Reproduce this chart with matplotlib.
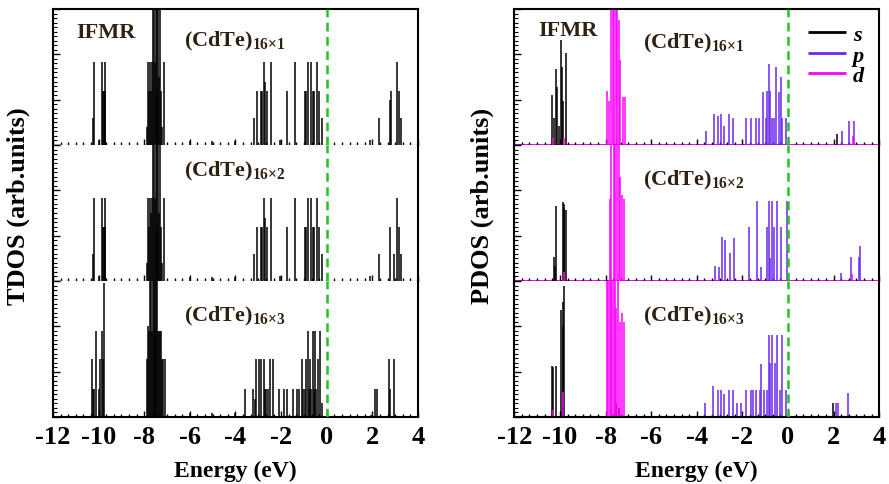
"""
Stacked TDOS / PDOS stick spectra of (CdTe)16xN IFMR structures.
Left: total DOS, right: s/p/d projected DOS.
"""

import matplotlib
matplotlib.use("Agg")
import matplotlib.pyplot as plt
from matplotlib.ticker import MultipleLocator, AutoMinorLocator

plt.rcParams['font.family'] = ['Liberation Serif', 'DejaVu Serif']
plt.rcParams['font.weight'] = 'bold'
plt.rcParams['mathtext.fontset'] = 'custom'
plt.rcParams['mathtext.rm'] = 'Liberation Serif'
plt.rcParams['mathtext.bf'] = 'Liberation Serif:bold'

# -------------------------------------------------------------
# DATA (energies in eV, heights in arb. units; 3.2 = off the top)
# -------------------------------------------------------------
panel_labels = ['16×1', '16×2', '16×3']

# TDOS, (CdTe)16x1
tdos1_e = [-10.26, -10.22, -10.00, -9.85, -9.81, -9.78, -9.74, -9.71,
           -7.86, -7.82, -7.78, -7.74, -7.70, -7.66, -7.62, -7.58, -7.54,
           -7.50, -7.46, -7.42, -7.38, -7.34, -7.30, -7.26, -7.22, -7.12,
           -5.98, -5.04, -4.03,
           -3.19, -3.04, -2.87, -2.82, -2.77, -2.72, -2.61, -2.43, -2.03,
           -1.74, -1.37, -0.97, -0.90, -0.84, -0.67, -0.60, -0.55, -0.43,
           -0.33, -0.19,
           1.91, 2.28, 2.78, 2.83, 3.07, 3.15, 3.25]
tdos1_h = [0.60, 1.84, 0.10, 1.84, 1.20, 1.20, 1.20, 1.84,
           0.40, 1.84, 1.20, 1.84, 1.20, 1.84, 3.20, 3.20, 1.84,
           3.20, 3.20, 1.20, 3.20, 1.50, 3.20, 1.20, 0.40, 1.84,
           0.08, 0.08, 0.08,
           0.60, 1.20, 1.20, 1.20, 1.84, 1.40, 1.20, 1.84, 0.10,
           1.20, 1.84, 1.20, 1.20, 1.84, 1.84, 1.20, 1.20, 1.84,
           1.20, 0.60,
           0.10, 0.60, 1.00, 1.20, 1.84, 1.20, 0.60]

# TDOS, (CdTe)16x2
tdos2_e = [-10.26, -10.22, -10.00, -9.85, -9.81, -9.78, -9.74, -9.71,
           -7.86, -7.82, -7.78, -7.74, -7.70, -7.66, -7.62, -7.58, -7.54,
           -7.50, -7.46, -7.42, -7.38, -7.34, -7.30, -7.26, -7.22, -7.12,
           -5.98, -5.04, -4.03,
           -3.19, -3.04, -2.87, -2.82, -2.77, -2.72, -2.61, -2.43, -2.03,
           -1.74, -1.37, -0.97, -0.90, -0.84, -0.67, -0.60, -0.55, -0.43,
           -0.33, -0.19,
           1.91, 2.28, 2.78, 2.93, 3.07, 3.15, 3.25]
tdos2_h = [0.60, 1.84, 0.10, 1.84, 1.20, 1.20, 1.20, 1.84,
           0.40, 1.84, 1.20, 1.84, 1.50, 1.84, 3.20, 3.20, 1.84,
           3.20, 3.20, 1.20, 3.20, 1.50, 3.20, 1.20, 0.40, 1.84,
           0.08, 0.08, 0.08,
           0.60, 1.20, 1.20, 1.20, 1.84, 1.40, 1.20, 1.84, 0.10,
           1.20, 1.84, 1.20, 1.20, 1.84, 1.84, 1.20, 1.20, 1.84,
           1.20, 0.60,
           0.10, 0.60, 1.20, 0.60, 1.84, 1.20, 0.60]

# TDOS, (CdTe)16x3
tdos3_e = [-10.29, -10.24, -10.19, -10.11, -9.97, -9.93, -9.87, -9.82, -9.78,
           -7.87, -7.83, -7.79, -7.75, -7.71, -7.67, -7.63, -7.59, -7.55,
           -7.51, -7.47, -7.43, -7.39, -7.35, -7.31, -7.27, -7.23, -7.17, -7.09,
           -5.98, -5.04, -4.03,
           -3.59, -3.23, -3.16, -3.09, -2.97, -2.87, -2.77, -2.70, -2.65,
           -2.58, -2.50, -2.36, -2.10, -1.88, -1.74, -1.49, -1.30, -1.20,
           -1.10, -1.03, -0.97, -0.91, -0.84, -0.78, -0.72, -0.67, -0.62,
           -0.55, -0.50, -0.45, -0.40, -0.29, -0.19,
           1.94, 2.10, 2.20, 2.71, 2.78, 2.93]
tdos3_h = [1.27, 0.61, 0.61, 1.89, 0.61, 1.27, 1.89, 1.27, 2.95,
           1.27, 2.00, 1.89, 3.20, 3.20, 1.89, 3.20, 3.20, 3.20,
           1.89, 3.20, 3.20, 1.89, 1.89, 1.89, 1.89, 1.27, 1.27, 1.27,
           0.08, 0.08, 0.08,
           0.61, 0.61, 0.40, 1.27, 1.27, 1.27, 1.27, 0.61, 0.61,
           0.61, 1.27, 1.27, 0.61, 0.61, 0.61, 0.61, 0.61, 0.61,
           1.27, 0.61, 0.61, 1.27, 1.89, 0.61, 1.27, 0.61, 1.89,
           0.61, 1.89, 0.61, 1.27, 1.89, 0.30,
           0.05, 0.61, 0.61, 1.27, 0.61, 1.27]

# PDOS, (CdTe)16x1
s1_e = [-10.33, -10.26, -10.19, -10.11, -10.04, -9.94, -9.90, -9.85, -9.75, 2.13]
s1_h = [1.10, 0.60, 1.68, 1.27, 0.42, 2.31, 1.72, 0.98, 2.03, 0.25]
p1_e = [-3.59, -3.23, -3.09, -2.94, -2.80, -2.58, -2.43, -1.85, -1.64,
        -1.42, -1.27, -1.10, -0.98, -0.91, -0.84, -0.77, -0.70, -0.62,
        -0.55, -0.40, -0.33, -0.26, -0.11,
        2.35, 2.67, 2.90]
p1_h = [0.31, 0.68, 0.64, 0.68, 0.42, 0.68, 0.60, 0.59, 0.59,
        0.59, 0.59, 1.16, 0.59, 1.20, 1.79, 1.20, 0.59, 0.59,
        1.72, 1.16, 1.50, 0.59, 0.59,
        0.31, 0.53, 0.53]
d1_e = [-10.30, -9.80, -7.94, -7.87, -7.77, -7.68, -7.62, -7.56, -7.50,
        -7.43, -7.36, -7.24, -7.14, 2.85]
d1_h = [0.15, 0.15, 1.20, 0.98, 3.20, 3.20, 3.20, 3.20, 3.20,
        2.76, 1.87, 1.05, 1.05, 0.20]

# PDOS, (CdTe)16x2
s2_e = [-10.26, -10.23, -10.19, -9.88, -9.84, -9.80, -9.73]
s2_h = [0.54, 0.32, 1.65, 1.75, 1.70, 1.60, 1.56]
p2_e = [-3.19, -3.01, -2.90, -2.75, -2.53, -2.36, -1.71, -1.35, -1.20,
        -0.91, -0.84, -0.77, -0.70, -0.62, -0.48, -0.33, -0.04,
        2.32, 2.78, 3.10, 3.17]
p2_h = [0.32, 0.30, 0.98, 0.90, 0.62, 0.95, 1.20, 1.76, 0.30,
        1.20, 1.76, 0.50, 1.76, 1.20, 1.76, 1.20, 1.76,
        0.17, 0.54, 0.54, 0.78]
d2_e = [-9.80, -7.80, -7.74, -7.65, -7.58, -7.50, -7.43, -7.36, -7.29,
        -7.19, 2.80]
d2_h = [0.20, 1.80, 3.20, 3.20, 3.20, 3.20, 3.20, 2.30, 1.90,
        1.80, 0.15]

# PDOS, (CdTe)16x3
s3_e = [-10.33, -10.29, -10.19, -9.94, -9.88, -9.85, -9.80, -7.55, -7.40,
        1.99]
s3_h = [1.13, 1.10, 1.13, 2.36, 2.00, 2.54, 2.90, 0.30, 0.20,
        0.32]
p3_e = [-3.64, -3.27, -3.09, -2.94, -2.80, -2.58, -2.43, -2.22, -2.07,
        -1.85, -1.63, -1.53, -1.42, -1.24, -1.17, -1.07, -0.93, -0.84,
        -0.77, -0.70, -0.58, -0.48, -0.37, -0.26, -0.11,
        2.09, 2.17, 2.61]
p3_h = [0.30, 0.69, 0.60, 0.60, 0.50, 0.60, 0.60, 0.30, 0.30,
        0.60, 0.60, 0.60, 0.60, 0.60, 1.16, 0.60, 0.60, 1.80,
        1.20, 1.80, 1.20, 1.80, 0.60, 1.80, 0.60,
        0.30, 0.30, 0.54]
d3_e = [-10.30, -9.85, -7.95, -7.88, -7.82, -7.76, -7.70, -7.64, -7.58,
        -7.52, -7.45, -7.38, -7.30, -7.20]
d3_h = [0.15, 0.55, 3.20, 3.20, 3.20, 3.20, 3.20, 3.20, 3.20,
        2.40, 3.20, 2.10, 2.30, 2.10]

tdos_sets = [(tdos1_e, tdos1_h), (tdos2_e, tdos2_h), (tdos3_e, tdos3_h)]
pdos_sets = [((s1_e, s1_h), (p1_e, p1_h), (d1_e, d1_h)),
             ((s2_e, s2_h), (p2_e, p2_h), (d2_e, d2_h)),
             ((s3_e, s3_h), (p3_e, p3_h), (d3_e, d3_h))]

orbital_names = ['s', 'p', 'd']
orbital_colors = ['black', '#6a28f0', '#ff00ff']
fermi_color = '#1fc41f'
label_color = '#2e2110'

# label heights (data units) for the (CdTe) tag of each panel
tdos_tag_y = [2.31, 2.44, 2.24]
pdos_tag_y = [2.27, 2.24, 2.24]


def style_axis(ax, is_bottom, is_top):
    ax.set_xlim(-12, 4)
    ax.set_ylim(0, 3)
    ax.xaxis.set_major_locator(MultipleLocator(2))
    ax.xaxis.set_minor_locator(AutoMinorLocator(6))
    ax.yaxis.set_major_locator(MultipleLocator(1))
    ax.yaxis.set_minor_locator(AutoMinorLocator(10))
    ax.tick_params(axis='both', which='both', direction='in',
                   top=False, right=False)
    ax.tick_params(axis='x', which='major', length=4, width=1)
    ax.tick_params(axis='x', which='minor', length=2.5, width=1)
    ax.tick_params(axis='y', which='major', length=5, width=1)
    ax.tick_params(axis='y', which='minor', length=3, width=0.8)
    ax.set_yticklabels([])
    for side in ['left', 'right']:
        ax.spines[side].set_linewidth(1.5)
    ax.spines['top'].set_visible(is_top)
    ax.spines['top'].set_linewidth(1.5)
    ax.spines['bottom'].set_linewidth(1.5 if is_bottom else 0.8)
    ax.spines['bottom'].set_color('black' if is_bottom else '#555555')
    if is_bottom:
        ax.set_xticklabels([f'{int(v)}' for v in ax.get_xticks()],
                           fontsize=19, fontweight='bold')
        ax.tick_params(axis='x', which='major', pad=6)
        ax.set_xlabel('Energy (eV)', fontsize=17, fontweight='bold',
                      labelpad=8)
    else:
        ax.tick_params(axis='x', labelbottom=False)
    ax.axvline(0, color=fermi_color, ls=(0, (3.5, 2.2)), lw=1.8, zorder=5)


def main():
    fig = plt.figure(figsize=(8.89, 4.85), dpi=100)

    # panel geometry in figure fractions (top -> bottom)
    bottoms = [0.699, 0.4186, 0.1381]
    height = 0.2804
    left_x, right_x, width = 0.0596, 0.5785, 0.4106

    # ---------------------------------------------------------
    # LEFT: total DOS
    # ---------------------------------------------------------
    for i, (e, h) in enumerate(tdos_sets):
        ax = fig.add_axes([left_x, bottoms[i], width, height])
        ax.vlines(e, 0, h, color='black', lw=1.1)
        style_axis(ax, is_bottom=(i == 2), is_top=(i == 0))
        ax.text(-6.27, tdos_tag_y[i], '(CdTe)$_{\\mathbf{' + panel_labels[i] + '}}$',
                fontsize=16, fontweight='bold', color=label_color,
                ha='left', va='center')
        if i == 0:
            ax.text(-9.7, 2.5, 'IFMR', fontsize=16, fontweight='bold',
                    color=label_color, ha='center', va='center')

    # ---------------------------------------------------------
    # RIGHT: projected DOS
    # ---------------------------------------------------------
    for i, orbitals in enumerate(pdos_sets):
        ax = fig.add_axes([right_x, bottoms[i], width, height])
        ax.axhline(0, color=orbital_colors[2], lw=1.5, zorder=1)
        for (e, h), name, col in zip(orbitals, orbital_names, orbital_colors):
            ax.vlines(e, 0, h, color=col, lw=1.1, label=name)
        style_axis(ax, is_bottom=(i == 2), is_top=(i == 0))
        ax.text(-6.36, pdos_tag_y[i], '(CdTe)$_{\\mathbf{' + panel_labels[i] + '}}$',
                fontsize=16, fontweight='bold', color=label_color,
                ha='left', va='center')
        if i == 0:
            ax.text(-9.64, 2.53, 'IFMR', fontsize=16, fontweight='bold',
                    color=label_color, ha='center', va='center')
            leg = ax.legend(loc='upper right', bbox_to_anchor=(1.0, 1.0),
                            frameon=False, handlelength=1.7,
                            handletextpad=0.3, labelspacing=0.0,
                            borderaxespad=0.3,
                            prop={'family': 'Liberation Serif',
                                  'style': 'italic', 'size': 16})
            for line in leg.get_lines():
                line.set_linewidth(2)

    # y labels
    fig.text(0.021, 0.575, 'TDOS (arb.units)', rotation=90, fontsize=19,
             fontweight='bold', ha='center', va='center')
    fig.text(0.543, 0.575, 'PDOS (arb.units)', rotation=90, fontsize=19,
             fontweight='bold', ha='center', va='center')

    fig.savefig('out.png', dpi=100)


if __name__ == "__main__":
    main()
